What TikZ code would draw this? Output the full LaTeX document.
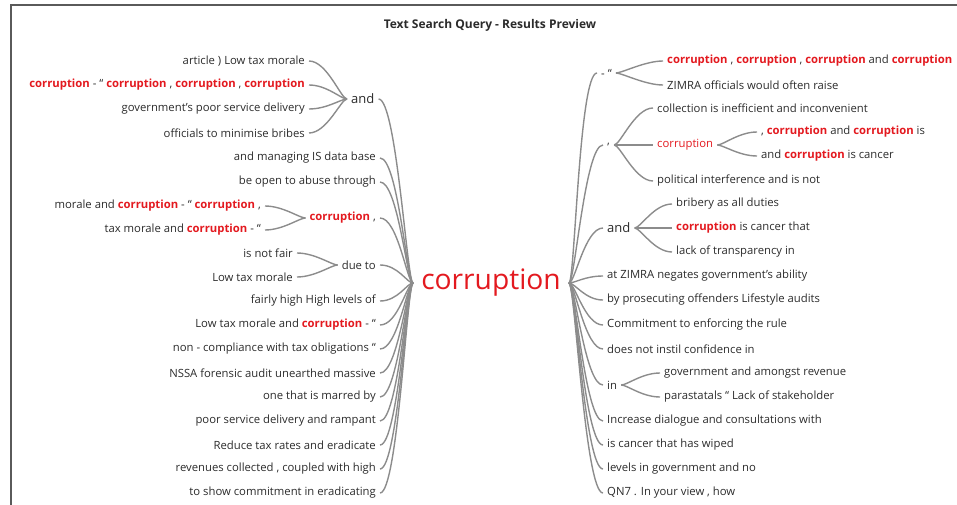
\documentclass[tikz,border=0pt]{standalone}
\usepackage{fontspec}
\setmainfont{Open Sans}
\definecolor{hit}{HTML}{E3191F}
\definecolor{twig}{HTML}{8C8C8C}
\definecolor{ink}{HTML}{2B2B2B}
\definecolor{framegray}{HTML}{5A5A5A}
\newcommand{\hl}[1]{\textcolor{hit}{\textbf{#1}}}
% left side: child east -> parent west ; right side: parent east -> child west
\newcommand{\linkL}[2]{\draw[branch] (#1.east) .. controls +(18,0) and +(-6,0) .. (#2.west);}
\newcommand{\linkR}[2]{\draw[branch] (#1.east) .. controls +(6,0) and +(-18,0) .. (#2.west);}

\begin{document}
\begin{tikzpicture}[
	x=1pt, y=-1pt,
	word/.style={text=ink, font=\fontsize{11.3}{13}\selectfont, inner xsep=4pt, inner ysep=1pt},
	leftword/.style={word, anchor=east},
	rightword/.style={word, anchor=west},
	joint/.style={word, font=\fontsize{13}{15}\selectfont},
	branch/.style={draw=twig, line width=1.4pt},
	header/.style={text=ink, font=\bfseries\fontsize{12}{14}\selectfont},
	keyword/.style={text=hit, font=\fontsize{28.2}{32}\selectfont, inner xsep=8pt}
	]
	\useasboundingbox (0,0) rectangle (957,505);
	
	% ==========================================
	% FRAME AND TITLE
	% ==========================================
	\draw[framegray, line width=1.5pt] (957,5) -- (11,5) -- (11,505);
	\node[header] (title) at (490,25) {Text Search Query - Results Preview};
	
	% ==========================================
	% ROOT WORD
	% ==========================================
	\node[keyword] (root) at (491,283) {corruption};
	
	% ==========================================
	% LEFT BRANCHES (preceding text)
	% ==========================================
	
	% Group joined by "and"
	\node[joint, anchor=west] (land) at (347,99) {and};
	\node[leftword] (la1) at (309,61) {article ) Low tax morale};
	\node[leftword] (la2) at (309,85) {\hl{corruption} - “ \hl{corruption} , \hl{corruption} , \hl{corruption}};
	\node[leftword] (la3) at (309,109) {government’s poor service delivery};
	\node[leftword] (la4) at (309,133) {officials to minimise bribes};
	
	\node[leftword] (lb) at (380,158) {and managing IS data base};
	\node[leftword] (lc) at (380,182) {be open to abuse through};
	
	% Group joined by "corruption ,"
	\node[leftword] (lcorr) at (380,218) {\hl{corruption} ,};
	\node[leftword] (ld1) at (265,206) {morale and \hl{corruption} - “ \hl{corruption} ,};
	\node[leftword] (ld2) at (265,230) {tax morale and \hl{corruption} - “};
	
	% Group joined by "due to"
	\node[leftword] (ldue) at (380,265) {due to};
	\node[leftword] (le1) at (297,253) {is not fair};
	\node[leftword] (le2) at (297,277) {Low tax morale};
	
	\node[leftword] (lf) at (380,301) {fairly high High levels of};
	\node[leftword] (lg) at (380,325) {Low tax morale and \hl{corruption} - “};
	\node[leftword] (lh) at (380,349) {non - compliance with tax obligations “};
	\node[leftword] (li) at (380,373) {NSSA forensic audit unearthed massive};
	\node[leftword] (lj) at (380,397) {one that is marred by};
	\node[leftword] (lk) at (380,421) {poor service delivery and rampant};
	\node[leftword] (ll) at (380,445) {Reduce tax rates and eradicate};
	\node[leftword] (lm) at (380,469) {revenues collected , coupled with high};
	\node[leftword] (ln) at (380,493) {to show commitment in eradicating};
	
	% Left connectors
	\linkL{la1}{land} \linkL{la2}{land} \linkL{la3}{land} \linkL{la4}{land}
	\linkL{ld1}{lcorr} \linkL{ld2}{lcorr}
	\linkL{le1}{ldue} \linkL{le2}{ldue}
	\linkL{land}{root} \linkL{lb}{root} \linkL{lc}{root} \linkL{lcorr}{root}
	\linkL{ldue}{root} \linkL{lf}{root} \linkL{lg}{root} \linkL{lh}{root}
	\linkL{li}{root} \linkL{lj}{root} \linkL{lk}{root} \linkL{ll}{root}
	\linkL{lm}{root} \linkL{ln}{root}
	
	% ==========================================
	% RIGHT BRANCHES (following text)
	% ==========================================
	
	% Group joined by "- “"
	\node[rightword] (rdash) at (597,73) {- “};
	\node[rightword] (ra1) at (663,61) {\hl{corruption} , \hl{corruption} , \hl{corruption} and \hl{corruption}};
	\node[rightword] (ra2) at (663,85) {ZIMRA officials would often raise};
	
	% Group joined by ","
	\node[rightword] (rcomma) at (603,145) {,};
	\node[rightword] (rb1) at (653,108) {collection is inefficient and inconvenient};
	\node[rightword, text=hit] (rbcorr) at (653,145) {corruption};
	\node[rightword] (rb3) at (653,181) {political interference and is not};
	\node[rightword] (rc1) at (757,132) {, \hl{corruption} and \hl{corruption} is};
	\node[rightword] (rc2) at (757,156) {and \hl{corruption} is cancer};
	
	% Group joined by "and"
	\node[joint, anchor=west] (rand) at (603,228) {and};
	\node[rightword] (rd1) at (672,204) {bribery as all duties};
	\node[rightword] (rd2) at (672,228) {\hl{corruption} is cancer that};
	\node[rightword] (rd3) at (672,252) {lack of transparency in};
	
	\node[rightword] (re) at (603,276) {at ZIMRA negates government’s ability};
	\node[rightword] (rf) at (603,300) {by prosecuting offenders Lifestyle audits};
	\node[rightword] (rg) at (603,325) {Commitment to enforcing the rule};
	\node[rightword] (rh) at (603,349) {does not instil confidence in};
	
	% Group joined by "in"
	\node[rightword] (rin) at (603,385) {in};
	\node[rightword] (ri1) at (660,373) {government and amongst revenue};
	\node[rightword] (ri2) at (660,397) {parastatals “ Lack of stakeholder};
	
	\node[rightword] (rj) at (603,421) {Increase dialogue and consultations with};
	\node[rightword] (rk) at (603,445) {is cancer that has wiped};
	\node[rightword] (rl) at (603,469) {levels in government and no};
	\node[rightword] (rm) at (603,493) {QN7 . In your view , how};
	
	% Right connectors
	\linkR{root}{rdash} \linkR{root}{rcomma} \linkR{root}{rand} \linkR{root}{re}
	\linkR{root}{rf} \linkR{root}{rg} \linkR{root}{rh} \linkR{root}{rin}
	\linkR{root}{rj} \linkR{root}{rk} \linkR{root}{rl} \linkR{root}{rm}
	\linkR{rdash}{ra1} \linkR{rdash}{ra2}
	\linkR{rcomma}{rb1} \linkR{rcomma}{rbcorr} \linkR{rcomma}{rb3}
	\linkR{rbcorr}{rc1} \linkR{rbcorr}{rc2}
	\linkR{rand}{rd1} \linkR{rand}{rd2} \linkR{rand}{rd3}
	\linkR{rin}{ri1} \linkR{rin}{ri2}
\end{tikzpicture}
\end{document}
